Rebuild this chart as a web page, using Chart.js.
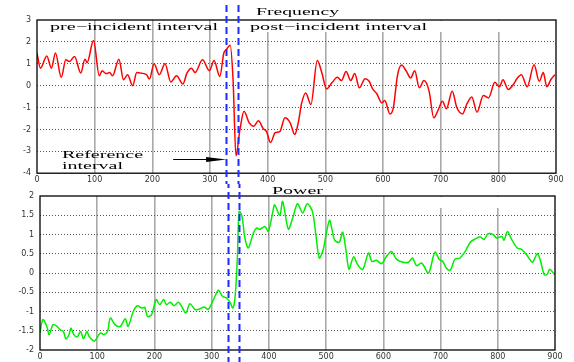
<!DOCTYPE html>
<html><head><meta charset="utf-8">
<script src="https://cdn.jsdelivr.net/npm/chart.js@4.4.1/dist/chart.umd.min.js"></script>
<style>
html,body{margin:0;padding:0;background:#fff;}
#wrap{position:relative;width:574px;height:362px;overflow:hidden;background:#fff;}
#c1{position:absolute;left:0;top:0;width:574px;height:184px;}
#c2{position:absolute;left:0;top:184px;width:574px;height:178px;}
</style></head><body>
<div id="wrap"><canvas id="c1" width="574" height="184"></canvas><canvas id="c2" width="574" height="178"></canvas></div>
<script>
// ---- data ----
const timeTicks = [0,100,200,300,400,500,600,700,800,900];
const freqTicks = [-4,-3,-2,-1,0,1,2,3];
const powerTicks = [-2,-1.5,-1,-0.5,0,0.5,1,1.5,2];
const referenceInterval = [328, 348];

const freqX = [0,6,17,25,32,42,50,56,65,76,83,87,98,108,113,120,126,131,142,150,157,166,173,181,190,195,203,212,222,232,242,253,260,268,274,287,299,307,317,324,328,335,340,345,352,359,368,376,384,392,398,405,413,421,430,439,447,453,459,466,475,486,494,502,511,521,528,536,544,551,559,569,576,582,589,598,603,612,618,625,632,640,648,655,663,671,680,688,696,703,710,720,728,738,745,754,763,774,783,794,802,808,817,826,833,840,850,862,871,878,884,891,898];
const freqY = [1.49,0.8,1.36,0.8,1.49,0.38,1.18,1.1,1.33,0.58,1.21,1.06,2.06,0.45,0.68,0.55,0.6,0.45,1.21,0.27,0.5,0.0,0.6,0.57,0.5,0.3,1.0,0.5,1.0,0.17,0.45,0.08,0.57,0.8,0.6,1.18,0.68,1.15,0.42,1.49,1.64,1.85,0.27,-3.2,-2.0,-1.17,-1.7,-1.85,-1.6,-1.95,-2.1,-2.6,-2.15,-2.1,-1.47,-1.7,-2.23,-1.7,-0.79,-0.33,-0.86,1.15,0.58,-0.15,0.12,0.38,0.23,0.65,0.23,0.55,-0.1,0.32,0.2,-0.15,-0.36,-0.79,-0.68,-1.29,-1.0,0.45,0.94,0.68,0.35,0.68,-0.1,0.23,-0.26,-1.47,-1.09,-0.71,-1.05,-0.26,-1.0,-1.29,-0.86,-0.52,-1.21,-0.45,-0.56,0.15,-0.05,0.27,-0.17,0.05,0.35,0.5,-0.05,0.95,0.2,0.6,-0.05,0.27,0.5];

const powerX = [0,5,12,16,23,30,35,41,45,50,54,59,65,71,76,82,86,95,101,106,112,118,123,131,140,149,154,163,170,178,183,188,195,203,209,216,221,228,234,242,249,255,262,271,278,287,294,303,312,319,326,332,337,341,345,348,353,358,364,373,379,384,393,399,407,410,419,424,434,442,450,459,467,476,482,488,495,500,506,511,515,523,529,535,540,548,555,564,574,580,588,597,605,614,623,634,644,651,658,667,679,690,698,704,710,717,725,734,743,752,760,769,776,783,792,798,807,811,817,824,834,842,850,856,861,869,874,881,886,891,897,900];
const powerY = [-1.56,-1.21,-1.39,-1.6,-1.34,-1.39,-1.47,-1.52,-1.71,-1.63,-1.43,-1.6,-1.66,-1.52,-1.71,-1.52,-1.65,-1.77,-1.65,-1.56,-1.6,-1.52,-1.17,-1.34,-1.39,-1.19,-1.39,-1.0,-0.85,-0.91,-0.89,-1.13,-1.08,-0.69,-0.82,-0.69,-0.82,-0.76,-0.85,-0.76,-0.91,-1.04,-0.8,-0.95,-0.94,-0.88,-0.95,-0.69,-0.45,-0.61,-0.65,-0.76,-0.91,-0.61,0.43,1.6,1.47,0.91,0.65,1.04,1.17,1.13,1.21,1.08,1.6,1.77,1.5,1.86,1.14,1.45,1.8,1.56,1.8,1.6,1.0,0.39,0.61,1.0,1.37,1.08,0.85,0.8,1.06,0.56,0.1,0.42,0.22,0.09,0.52,0.3,0.33,0.24,0.42,0.56,0.36,0.28,0.28,0.39,0.19,0.26,0.0,0.54,0.35,0.3,0.13,0.07,0.36,0.39,0.56,0.8,0.88,0.94,0.87,1.02,1.0,0.91,0.95,0.85,1.08,0.88,0.65,0.61,0.48,0.35,0.28,0.5,0.35,-0.04,-0.04,0.1,0.0,-0.04];

// ---- helpers ----
const TRANSPARENT = 'rgba(0,0,0,0)';
function fitText(ctx, text, left, right, baseline, size, weight){
  ctx.save();
  ctx.font = (weight||'normal') + ' ' + size + 'px "Liberation Serif", "DejaVu Serif", serif';
  ctx.fillStyle = '#000';
  ctx.textBaseline = 'alphabetic';
  ctx.textAlign = 'left';
  const w = ctx.measureText(text).width;
  ctx.translate(left, baseline);
  ctx.scale((right-left)/w, 1);
  ctx.fillText(text, 0, 0);
  ctx.restore();
}
function refLines(chart, y0, y1, offset){
  const ctx = chart.ctx, xs = chart.scales.x;
  ctx.save();
  ctx.strokeStyle = '#1f2bff';
  ctx.lineWidth = 2;
  ctx.setLineDash([7,4]);
  ctx.lineDashOffset = offset;
  referenceInterval.forEach(v=>{
    const px = Math.round(xs.getPixelForValue(v)) + 0.5;
    ctx.beginPath(); ctx.moveTo(px, y0); ctx.lineTo(px, y1); ctx.stroke();
  });
  ctx.restore();
}
function frame(chart){
  const ctx = chart.ctx, a = chart.chartArea;
  ctx.save();
  ctx.strokeStyle = '#000'; ctx.lineWidth = 1.3;
  ctx.strokeRect(a.left, a.top, a.right-a.left, a.bottom-a.top);
  ctx.restore();
}
function mask(chart, x0, x1, h){
  const ctx = chart.ctx, a = chart.chartArea;
  ctx.save(); ctx.fillStyle = '#fff';
  ctx.fillRect(x0, a.top+1, x1-x0, h);
  ctx.restore();
}
const plainLabel = v => String(v);

function xScaleCfg(axisH){
  return {
    type:'linear', min:0, max:900,
    afterBuildTicks: s => { s.ticks = timeTicks.map(v=>({value:v})); },
    afterFit: s => { s.height = axisH; },
    grid:{ color: c => (c.tick && (c.tick.value===0 || c.tick.value===900)) ? TRANSPARENT : '#a9a9a9', lineWidth:1.6, drawTicks:false },
    border:{ display:false },
    ticks:{ padding:2, autoSkip:false, maxRotation:0, color:'#333', font:{family:'DejaVu Sans', size:8}, callback: plainLabel }
  };
}
function yScaleCfg(min, max, list, w){
  return {
    type:'linear', min:min, max:max,
    afterBuildTicks: s => { s.ticks = list.map(v=>({value:v})); },
    afterFit: s => { s.width = w; },
    grid:{ color: c => (c.tick && (c.tick.value===min || c.tick.value===max)) ? TRANSPARENT : '#555', lineWidth:1, drawTicks:false },
    border:{ display:false, dash:[1,2] },
    ticks:{ padding:6, color:'#333', font:{family:'DejaVu Sans', size:8}, callback: plainLabel }
  };
}

// ---- top chart: Frequency ----
new Chart(document.getElementById('c1'), {
  type:'line',
  data:{ datasets:[{ data: freqX.map((x,i)=>({x:x, y:freqY[i]})), borderColor:'#ff0000', borderWidth:1.5, pointRadius:0, tension:0.4, cubicInterpolationMode:'monotone', fill:false }] },
  options:{
    responsive:false, animation:false, devicePixelRatio:1,
    layout:{ padding:{ left:0, right:18, top:20, bottom:0 } },
    plugins:{ legend:{display:false}, tooltip:{enabled:false} },
    scales:{ x: xScaleCfg(10), y: yScaleCfg(-4, 3, freqTicks, 37) }
  },
  plugins:[{
    id:'topDecor',
    beforeDatasetsDraw(chart){ mask(chart, 246, 546, 11); },
    afterDraw(chart){
      frame(chart);
      const ctx = chart.ctx;
      fitText(ctx, 'Frequency', 256, 339, 15, 11);
      fitText(ctx, 'pre\u2212incident interval', 50, 218, 29.5, 11);
      fitText(ctx, 'post\u2212incident interval', 250, 427, 29.5, 11);
      fitText(ctx, 'Reference', 62, 143, 157.5, 11);
      fitText(ctx, 'interval', 62, 123, 168.5, 11);
      // arrow toward reference interval
      const tip = chart.scales.x.getPixelForValue(referenceInterval[0]);
      const y = 159.5;
      ctx.save();
      ctx.strokeStyle = '#000'; ctx.fillStyle = '#000'; ctx.lineWidth = 1;
      ctx.beginPath(); ctx.moveTo(tip-53, y); ctx.lineTo(tip-18, y); ctx.stroke();
      ctx.beginPath(); ctx.moveTo(tip, y); ctx.lineTo(tip-20, y-2.5); ctx.lineTo(tip-20, y+2.5); ctx.closePath(); ctx.fill();
      ctx.restore();
      refLines(chart, 5, 184, 0);
    }
  }]
});

// ---- bottom chart: Power ----
new Chart(document.getElementById('c2'), {
  type:'line',
  data:{ datasets:[{ data: powerX.map((x,i)=>({x:x, y:powerY[i]})), borderColor:'#00ee00', borderWidth:1.5, pointRadius:0, tension:0.3, fill:false }] },
  options:{
    responsive:false, animation:false, devicePixelRatio:1,
    layout:{ padding:{ left:0, right:19, top:12, bottom:0 } },
    plugins:{ legend:{display:false}, tooltip:{enabled:false} },
    scales:{ x: xScaleCfg(12), y: yScaleCfg(-2, 2, powerTicks, 40) }
  },
  plugins:[{
    id:'bottomDecor',
    beforeDatasetsDraw(chart){ mask(chart, 402, 546, 11); },
    afterDraw(chart){
      frame(chart);
      fitText(chart.ctx, 'Power', 272, 323, 9.5, 11);
      refLines(chart, 0, 178, 3);
    }
  }]
});
</script>
</body></html>
